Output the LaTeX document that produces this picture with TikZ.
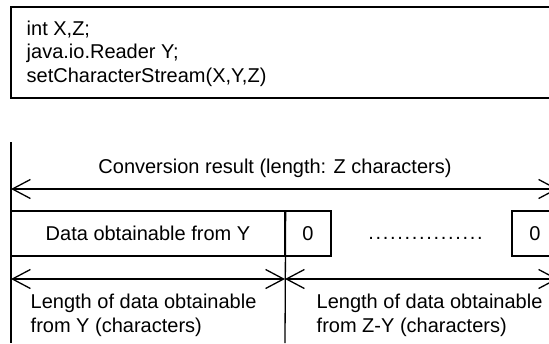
\documentclass[tikz,border=0pt]{standalone}
\usepackage{fontspec}
\setmainfont{Liberation Sans}
\usetikzlibrary{arrows.meta}
\tikzset{
  lbl/.style={inner sep=0pt, font=\fontsize{20}{24}\selectfont},
  cell/.style={draw, line width=1.3pt, inner sep=0pt, minimum height=45pt, font=\fontsize{20}{24}\selectfont},
  rule/.style={line width=1.3pt},
  dimline/.style={line width=1.3pt, {Straight Barb[length=18pt,width=19pt]}-{Straight Barb[length=18pt,width=19pt]}}
}
\begin{document}
\begin{tikzpicture}[x=1pt,y=-1pt]
\useasboundingbox (0,0) rectangle (549,343);
% code box
\node[draw, line width=1.3pt, minimum width=549pt, minimum height=91pt, inner sep=0pt] (code) at (285.5,52.5) {};
\node[lbl, anchor=base west] (c1) at (26.5,35) {int X,Z;};
\node[lbl, anchor=base west] (c2) at (26.5,58.5) {java.io.Reader Y;};
\node[lbl, anchor=base west] (c3) at (26.5,82) {setCharacterStream(X,Y,Z)};
% vertical rules
\coordinate (vltop) at (11,142);
\coordinate (vlbot) at (11,343);
\draw[rule] (vltop) -- (vlbot);
% conversion result
\node[lbl, anchor=base] (conv) at (275,173) {Conversion result (length: Z characters)};
\coordinate (tl) at (11,189);
\coordinate (tr) at (558,189);
\draw[dimline] (tl) -- (tr);
% cells
\node[cell, minimum width=274pt] (data) at (148,233.5) {Data obtainable from Y};
\node[cell, minimum width=46pt] (z1) at (308,233.5) {0};
\node[cell, minimum width=46pt] (z2) at (535,233.5) {0};
\node[lbl, anchor=base] (dots) at (425.5,239) {.\kern1.7pt.\kern1.7pt.\kern1.7pt.\kern1.7pt.\kern1.7pt.\kern1.7pt.\kern1.7pt.\kern1.7pt.\kern1.7pt.\kern1.7pt.\kern1.7pt.\kern1.7pt.\kern1.7pt.\kern1.7pt.\kern1.7pt.};
\coordinate (midbot) at (285,343);
\draw[rule] (data.north east) -- (midbot);
% lengths
\coordinate (bl) at (11,279);
\coordinate (bm) at (285,279);
\coordinate (br) at (558,279);
\draw[dimline] (bl) -- (bm);
\draw[dimline] (bm) -- (br);
\node[lbl, anchor=base west] (ly1) at (30.5,308) {Length of data obtainable};
\node[lbl, anchor=base west] (ly2) at (30.5,332) {from Y (characters)};
\node[lbl, anchor=base west] (lz1) at (316.5,308) {Length of data obtainable};
\node[lbl, anchor=base west] (lz2) at (316.5,332) {from Z-Y (characters)};
\end{tikzpicture}
\end{document}
